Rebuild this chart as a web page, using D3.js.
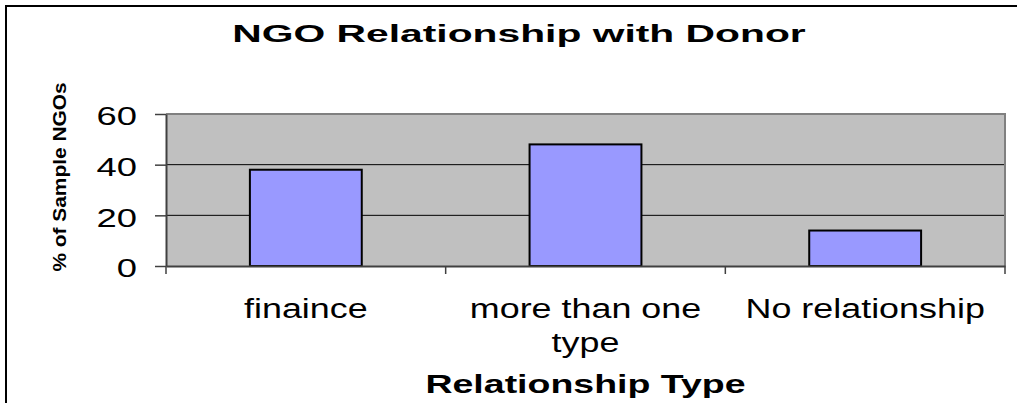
<!DOCTYPE html>
<html>
<head>
<meta charset="utf-8">
<script src="https://cdn.jsdelivr.net/npm/d3@7"></script>
<style>
  body { margin: 0; background: #fff; }
  svg { display: block; font-family: "Liberation Sans", Arial, sans-serif; }
</style>
</head>
<body>
<svg id="chart" width="1017" height="403"></svg>
<script>
const categories = ["finaince", "more than one type", "No relationship"];
const values = [38, 48, 14];
const yTicks = [0, 20, 40, 60];
const chartTitle = "NGO Relationship with Donor";
const xTitle = "Relationship Type";
const yTitle = "% of Sample NGOs";

const svg = d3.select("#chart");
const W = 1017, H = 403;
const plot = { left: 166, right: 1005, top: 114, bottom: 266 };

const x = d3.scaleBand()
  .domain(categories)
  .range([plot.left, plot.right])
  .paddingInner(0.6)
  .paddingOuter(0.3);
const y = d3.scaleLinear().domain([0, 60]).range([plot.bottom, plot.top]);

// the text in the source is rendered wider than Liberation Sans, so stretch it
function stretchX(sel, sx) {
  sel.attr("transform", `scale(${sx},1)`);
}

// outer frame (only top and left edges are in view)
svg.append("rect")
  .attr("x", 6).attr("y", 6)
  .attr("width", W).attr("height", H)
  .attr("fill", "none")
  .attr("stroke", "#000")
  .attr("stroke-width", 2);

// plot area
svg.append("rect")
  .attr("x", plot.left).attr("y", plot.top)
  .attr("width", plot.right - plot.left)
  .attr("height", plot.bottom - plot.top)
  .attr("fill", "#c0c0c0");

svg.append("g")
  .selectAll("line")
  .data(yTicks.filter((v) => v > y.domain()[0] && v < y.domain()[1]))
  .join("line")
  .attr("x1", plot.left).attr("x2", plot.right)
  .attr("y1", (d) => y(d)).attr("y2", (d) => y(d))
  .attr("stroke", "#000")
  .attr("stroke-width", 1);

svg.append("path")
  .attr("d", `M${plot.left},${y(60)}H${plot.right}V${plot.bottom}`)
  .attr("fill", "none")
  .attr("stroke", "#808080")
  .attr("stroke-width", 2);

// bars
svg.append("g")
  .selectAll("rect")
  .data(categories.map((c, i) => ({ c, v: values[i] })))
  .join("rect")
  .attr("x", (d) => x(d.c))
  .attr("y", (d) => y(d.v))
  .attr("width", x.bandwidth())
  .attr("height", (d) => y(0) - y(d.v))
  .attr("fill", "#9999ff")
  .attr("stroke", "#000")
  .attr("stroke-width", 2);

// y axis
const yAxis = svg.append("g")
  .attr("transform", `translate(${plot.left},0)`)
  .call(d3.axisLeft(y).tickValues(yTicks).tickSize(11).tickSizeOuter(0));
yAxis.select(".domain").attr("stroke", "#404040").attr("stroke-width", 2);
yAxis.selectAll(".tick line").attr("stroke", "#404040").attr("stroke-width", 1.5);
yAxis.selectAll(".tick text")
  .attr("font-size", 26)
  .attr("font-family", "Liberation Sans, Arial, sans-serif")
  .attr("fill", "#000")
  .attr("x", -29 / 1.4)
  .attr("dy", "0.42em")
  .call(stretchX, 1.4);

// x axis
const xAxis = svg.append("g")
  .attr("transform", `translate(0,${plot.bottom})`)
  .call(d3.axisBottom(x).tickSize(0).tickSizeOuter(0));
xAxis.select(".domain").attr("stroke", "#404040").attr("stroke-width", 2);

const labelScale = 1.33;
xAxis.selectAll(".tick text")
  .attr("font-size", 27)
  .attr("font-family", "Liberation Sans, Arial, sans-serif")
  .attr("fill", "#000")
  .attr("y", 52)
  .attr("dy", 0)
  .call(stretchX, labelScale)
  .each(function () {
    const text = d3.select(this);
    const words = text.text().split(" ");
    text.text(null);
    let line = [];
    let tspan = text.append("tspan").attr("x", 0).attr("dy", 0);
    for (const w of words) {
      line.push(w);
      tspan.text(line.join(" "));
      if (tspan.node().getComputedTextLength() * labelScale > x.step() * 0.95 && line.length > 1) {
        line.pop();
        tspan.text(line.join(" "));
        line = [w];
        tspan = text.append("tspan").attr("x", 0).attr("dy", 34).text(w);
      }
    }
  });

// category boundary ticks
const edges = categories.map((c) => x(c) + x.bandwidth() / 2 - x.step() / 2);
edges.push(x(categories[categories.length - 1]) + x.bandwidth() / 2 + x.step() / 2);
svg.append("g")
  .selectAll("line")
  .data(edges)
  .join("line")
  .attr("x1", (d) => d).attr("x2", (d) => d)
  .attr("y1", plot.bottom).attr("y2", plot.bottom + 8)
  .attr("stroke", "#404040")
  .attr("stroke-width", 1.5);

// titles
svg.append("g")
  .attr("transform", "translate(519,42)")
  .append("text")
  .attr("text-anchor", "middle")
  .attr("font-size", 24)
  .attr("font-weight", "bold")
  .text(chartTitle)
  .call(stretchX, 1.7);

svg.append("g")
  .attr("transform", `translate(${(plot.left + plot.right) / 2},393)`)
  .append("text")
  .attr("text-anchor", "middle")
  .attr("font-size", 25)
  .attr("font-weight", "bold")
  .text(xTitle)
  .call(stretchX, 1.5);

svg.append("g")
  .attr("transform", "translate(65.5,177) rotate(-90)")
  .append("text")
  .attr("text-anchor", "middle")
  .attr("font-size", 18.5)
  .attr("font-weight", "bold")
  .text(yTitle)
  .call(stretchX, 1.13);
</script>
</body>
</html>
